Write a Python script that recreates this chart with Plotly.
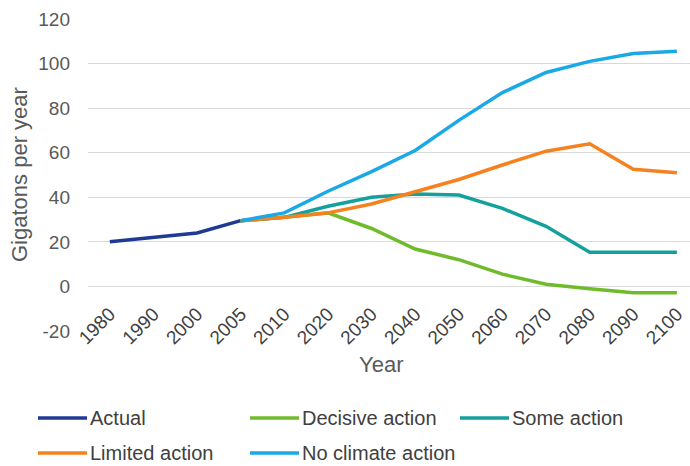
import plotly.graph_objects as go

years = ["1980", "1990", "2000", "2005", "2010", "2020", "2030", "2040",
         "2050", "2060", "2070", "2080", "2090", "2100"]

actual =        [20, 22, 24, 29.5, None, None, None, None, None, None, None, None, None, None]
decisive =      [None, None, None, 29.5, 31, 33, 26, 16.8, 12, 5.5, 1, -1, -2.8, -2.8]
some_action =   [None, None, None, 29.5, 31, 36, 40, 41.5, 41, 35, 27, 15.3, 15.3, 15.3]
limited =       [None, None, None, 29.5, 31, 33, 37, 42.5, 48, 54.5, 60.7, 64, 52.6, 51]
no_action =     [None, None, None, 29.5, 33, 42.7, 51.5, 61, 74.5, 87, 96, 101, 104.5, 105.5]

y_ticks = [-20, 0, 20, 40, 60, 80, 100, 120]
y_range = [-20, 120]

series = [
    ("Actual", actual, "#1f3a93"),
    ("Decisive action", decisive, "#70bb2c"),
    ("Some action", some_action, "#14a09c"),
    ("Limited action", limited, "#f5821f"),
    ("No climate action", no_action, "#1aa9e6"),
]

W, H = 690, 466
ML, MR, MT, MB = 88, 0, 19, 135
PW, PH = W - ML - MR, H - MT - MB


def px_x(x):
    return (x - ML) / PW


def px_y(y):
    return (H - MB - y) / PH


fig = go.Figure()
for name, vals, color in series:
    fig.add_trace(go.Scatter(
        x=years, y=vals, name=name, mode="lines",
        line=dict(color=color, width=3.5),
        connectgaps=False, showlegend=False,
    ))

base = "Liberation Sans, Arial, sans-serif"
ytick_font = dict(family=base, size=19, color="#595959")
xtick_font = dict(family=base, size=19, color="#404040")
legend_font = dict(family=base, size=20, color="#404040")
title_font = dict(family=base, size=22, color="#595959")

# x axis sits on the y = 0 line
zero_pos = (0 - y_range[0]) / (y_range[1] - y_range[0])

# legend: two rows, three columns (line sample + label)
legend_cols = [38, 250, 460]
legend_rows = [418, 453]
slots = [(0, 0), (0, 1), (0, 2), (1, 0), (1, 1)]
shapes, annotations = [], []
for (name, _, color), (r, c) in zip(series, slots):
    x0 = legend_cols[c]
    y0 = legend_rows[r]
    shapes.append(dict(type="line", xref="paper", yref="paper",
                       x0=px_x(x0), x1=px_x(x0 + 49), y0=px_y(y0), y1=px_y(y0),
                       line=dict(color=color, width=3.5)))
    annotations.append(dict(text=name, xref="paper", yref="paper",
                            x=px_x(x0 + 50), y=px_y(y0), xanchor="left", yanchor="middle",
                            showarrow=False, font=legend_font))

annotations += [
    dict(text="Gigatons per year", xref="paper", yref="paper", x=px_x(19), y=0.5,
         xanchor="center", yanchor="middle", textangle=-90, showarrow=False,
         font=title_font),
    dict(text="Year", xref="paper", yref="paper", x=px_x(381), y=px_y(364),
         xanchor="center", yanchor="middle", showarrow=False, font=title_font),
]

fig.update_layout(
    width=W, height=H,
    margin=dict(l=ML, r=MR, t=MT, b=MB),
    plot_bgcolor="white", paper_bgcolor="white",
    showlegend=False,
    xaxis=dict(
        type="category", range=[-0.5, 13.3], showgrid=False, zeroline=False,
        showline=False, tickangle=-45, tickfont=xtick_font, ticks="",
        anchor="free", position=zero_pos, ticklabelstandoff=12,
    ),
    yaxis=dict(
        range=y_range, tickvals=y_ticks, ticktext=[str(v) for v in y_ticks],
        showgrid=True, gridcolor="#d9d9d9",
        gridwidth=1, zeroline=False, showline=False, tickfont=ytick_font,
        ticklabelstandoff=17,
    ),
    shapes=shapes,
    annotations=annotations,
)

fig.write_html("out.html")
